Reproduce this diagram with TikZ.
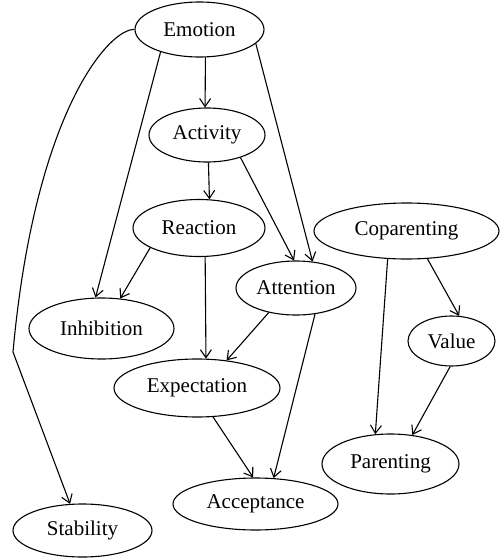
\documentclass[tikz,border=0pt]{standalone}
\usepackage{fontspec}
\setmainfont{Liberation Serif}
\usetikzlibrary{shapes.geometric,arrows.meta}
\begin{document}
\begin{tikzpicture}[x=0.5pt,y=-0.5pt,
  nd/.style={draw,ellipse,inner sep=0pt,line width=0.55pt,font=\fontsize{10.5}{12}\selectfont},
  ed/.style={-{Straight Barb[length=4pt,width=5.5pt]},line width=0.55pt}]
\useasboundingbox (0,0) rectangle (499,558);
\node[nd,minimum width=64.5pt,minimum height=27.5pt] (emo) at (199.5,29.5) {Emotion};
\node[nd,minimum width=58pt,minimum height=27pt] (act) at (207,135) {Activity};
\node[nd,minimum width=66pt,minimum height=28.5pt] (rea) at (199,228) {Reaction};
\node[nd,minimum width=60pt,minimum height=27pt] (att) at (296,288) {Attention};
\node[nd,minimum width=72.5pt,minimum height=30.5pt] (inh) at (101.5,328.5) {Inhibition};
\node[nd,minimum width=83pt,minimum height=29pt] (exp) at (197,388) {Expectation};
\node[nd,minimum width=82.5pt,minimum height=26pt] (acc) at (255.5,504) {Acceptance};
\node[nd,minimum width=69.5pt,minimum height=26.5pt] (sta) at (82.5,530.5) {Stability};
\node[nd,minimum width=92.5pt,minimum height=28pt] (cop) at (406.5,231) {Coparenting};
\node[nd,minimum width=43.5pt,minimum height=25pt] (val) at (451.5,341) {Value};
\node[nd,minimum width=68.5pt,minimum height=30pt] (par) at (390.5,464) {Parenting};
\coordinate (kink) at (13,352);
\draw[ed] (emo.-78.7) -- (act.94.2);
\draw[ed] (emo.-150.9) -- (inh.101.7);
\draw[ed] (emo.-14.8) -- (att.58.7);
\draw[ed] (emo.180) .. controls (110,28) and (35,110) .. (kink) -- (sta.115.3);
\draw[ed] (act.-87.9) -- (rea.70);
\draw[ed] (act.-34.9) -- (att.94.1);
\draw[ed] (rea.-158.6) -- (inh.58.8);
\draw[ed] (rea.-78) -- (exp.73.8);
\draw[ed] (att.-138.8) -- (exp.43);
\draw[ed] (att.-54.9) -- (acc.55.6);
\draw[ed] (exp.-61.9) -- (acc.95.3);
\draw[ed] (cop.-53.8) -- (val.73.9);
\draw[ed] (cop.-124.9) -- (par.117.3);
\draw[ed] (val.-93.3) -- (par.53.1);
\end{tikzpicture}
\end{document}
